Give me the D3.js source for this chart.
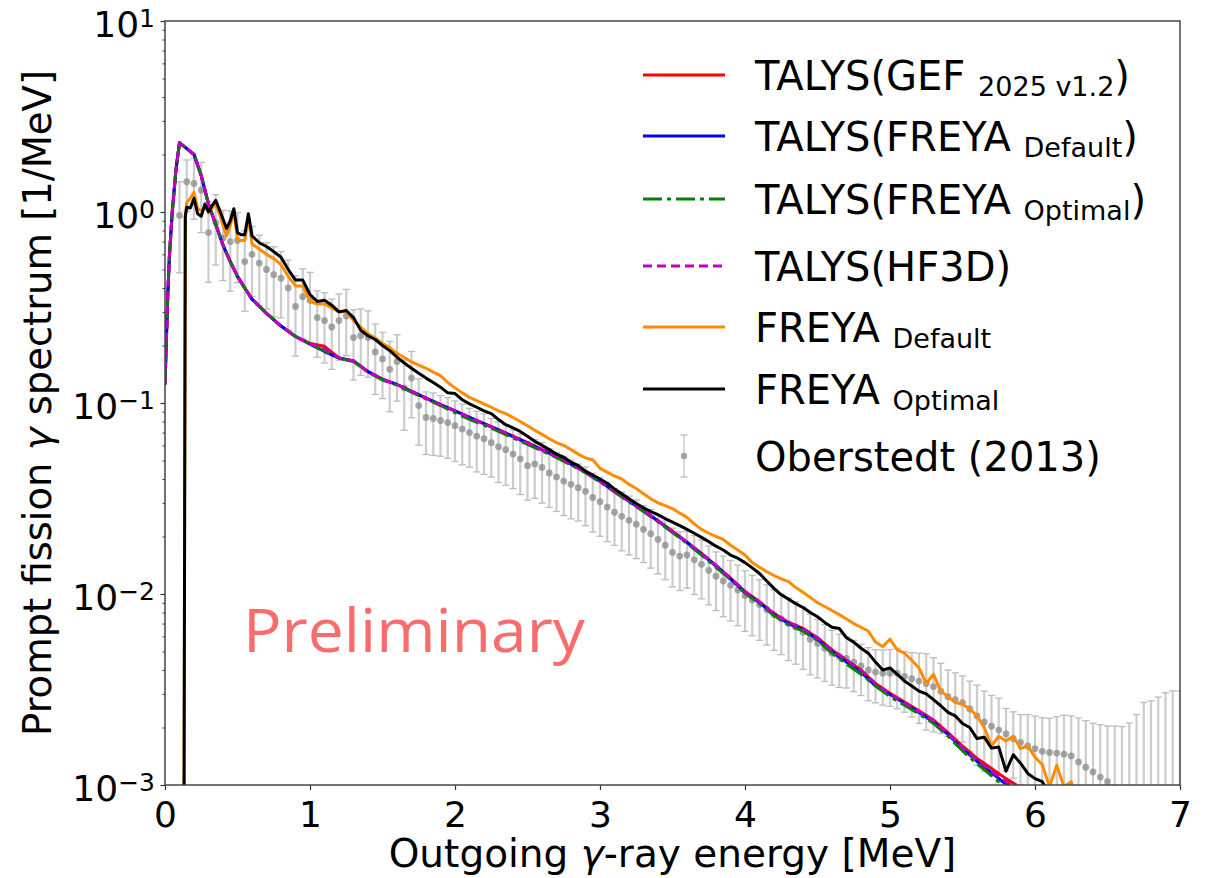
<!DOCTYPE html>
<html>
<head>
<meta charset="utf-8">
<script src="https://cdn.jsdelivr.net/npm/d3@7"></script>
<style>
body { margin: 0; background: #fff; }
text { font-family: "DejaVu Sans", sans-serif; }
</style>
</head>
<body>
<script>
// ---- TALYS curves (energy in MeV, spectrum in 1/MeV) ----
var talysE = [0, 0.01, 0.02, 0.03, 0.05, 0.075, 0.10, 0.20, 0.25, 0.30, 0.35, 0.40, 0.45, 0.50, 0.55, 0.60,
  0.7, 0.8, 0.9, 1.0, 1.1, 1.2, 1.3, 1.4, 1.5, 1.6, 1.7, 1.8, 1.9, 2.0,
  2.1, 2.2, 2.3, 2.4, 2.5, 2.6, 2.7, 2.8, 2.9, 3.0, 3.1, 3.2, 3.3, 3.4, 3.5, 3.6, 3.7, 3.8, 3.9, 4.0,
  4.1, 4.2, 4.3, 4.4, 4.5, 4.6, 4.7, 4.8, 4.9, 5.0, 5.1, 5.2, 5.3, 5.4, 5.5, 5.6, 5.7, 5.8, 5.9, 6.0];
var talysGef = [0.125, 0.22, 0.38, 0.58, 1.0, 1.65, 2.30, 2.00, 1.55, 1.10, 0.86, 0.67, 0.55, 0.46, 0.40, 0.35,
  0.295, 0.253, 0.223, 0.205, 0.198, 0.172, 0.166, 0.146, 0.133, 0.125, 0.115, 0.106, 0.098, 0.091,
  0.084, 0.078, 0.0725, 0.067, 0.062, 0.057, 0.0525, 0.048, 0.0435, 0.039, 0.0345, 0.0307, 0.0273, 0.0242, 0.0213, 0.0187, 0.0163, 0.0141, 0.0121, 0.0103,
  0.0091, 0.0079, 0.0071, 0.0066, 0.0059, 0.0051, 0.0045, 0.0040, 0.0034, 0.00302, 0.00272, 0.00245, 0.00219, 0.00188, 0.00160, 0.00138, 0.00122, 0.00108, 0.00097, 0.00086];
var talysFreyaDef = [0.125, 0.22, 0.38, 0.58, 1.0, 1.65, 2.31, 2.00, 1.55, 1.10, 0.86, 0.67, 0.55, 0.46, 0.40, 0.35,
  0.295, 0.253, 0.223, 0.203, 0.186, 0.172, 0.166, 0.146, 0.133, 0.125, 0.115, 0.106, 0.098, 0.091,
  0.084, 0.078, 0.0722, 0.0667, 0.0617, 0.0568, 0.0523, 0.0478, 0.0434, 0.0389, 0.0344, 0.0306, 0.0272, 0.0241, 0.0212, 0.0186, 0.0162, 0.0140, 0.0120, 0.0102,
  0.0090, 0.0078, 0.0070, 0.0065, 0.0058, 0.0050, 0.0044, 0.0039, 0.0033, 0.00298, 0.00268, 0.00240, 0.00214, 0.00184, 0.00155, 0.00133, 0.00116, 0.00101, 0.00090, 0.00080];
var talysFreyaOpt = [0.125, 0.22, 0.38, 0.58, 1.0, 1.65, 2.31, 2.00, 1.55, 1.10, 0.86, 0.67, 0.55, 0.46, 0.40, 0.35,
  0.295, 0.253, 0.223, 0.203, 0.188, 0.171, 0.165, 0.145, 0.132, 0.124, 0.114, 0.105, 0.097, 0.089,
  0.082, 0.0765, 0.0710, 0.0656, 0.0608, 0.0560, 0.0518, 0.0474, 0.0431, 0.0386, 0.0342, 0.0304, 0.0270, 0.0239, 0.0210, 0.0184, 0.0160, 0.0138, 0.0119, 0.0101,
  0.0089, 0.0077, 0.0069, 0.0064, 0.0057, 0.0049, 0.0043, 0.0038, 0.0033, 0.00290, 0.00262, 0.00235, 0.00210, 0.00180, 0.00151, 0.00129, 0.00112, 0.00097, 0.00086, 0.00077];
var talysHf3d = [0.125, 0.22, 0.38, 0.58, 1.0, 1.65, 2.30, 2.00, 1.55, 1.10, 0.86, 0.67, 0.55, 0.46, 0.40, 0.35,
  0.295, 0.253, 0.223, 0.204, 0.193, 0.172, 0.166, 0.146, 0.133, 0.125, 0.115, 0.106, 0.098, 0.091,
  0.084, 0.078, 0.0724, 0.0669, 0.0619, 0.0569, 0.0524, 0.0479, 0.0435, 0.0390, 0.0345, 0.0307, 0.0273, 0.0242, 0.0213, 0.0187, 0.0163, 0.0141, 0.0121, 0.0103,
  0.0091, 0.0079, 0.0071, 0.0066, 0.0059, 0.0051, 0.0045, 0.0040, 0.0034, 0.00300, 0.00270, 0.00243, 0.00217, 0.00186, 0.00157, 0.00135, 0.00118, 0.00104, 0.00093, 0.00083];

// ---- FREYA curves ----
var freyaE = [0.13, 0.14, 0.15, 0.175, 0.20, 0.225, 0.25, 0.275, 0.30, 0.325, 0.35, 0.375, 0.40, 0.425, 0.45, 0.475,
  0.50, 0.525, 0.55, 0.575, 0.60, 0.625, 0.65, 0.70, 0.75, 0.80, 0.85, 0.90, 0.95, 1.00,
  1.05, 1.10, 1.15, 1.20, 1.25, 1.30, 1.35, 1.40, 1.45, 1.50, 1.55, 1.60, 1.65, 1.70, 1.75, 1.80, 1.85, 1.90, 1.95,
  2.00, 2.05, 2.10, 2.15, 2.20, 2.25, 2.30, 2.35, 2.40, 2.45, 2.50, 2.55, 2.60, 2.65, 2.70, 2.75, 2.80, 2.85, 2.90, 2.95,
  3.00, 3.05, 3.10, 3.15, 3.20, 3.25, 3.30, 3.35, 3.40, 3.45, 3.50, 3.55, 3.60, 3.65, 3.70, 3.75, 3.80, 3.85, 3.90, 3.95,
  4.00, 4.05, 4.10, 4.15, 4.20, 4.25, 4.30, 4.35, 4.40, 4.45, 4.50, 4.55, 4.60, 4.65, 4.70, 4.75, 4.80, 4.85, 4.90, 4.95,
  5.00, 5.05, 5.10, 5.15, 5.20, 5.25, 5.30, 5.35, 5.40, 5.45, 5.50, 5.55, 5.60, 5.65, 5.70, 5.75, 5.80, 5.85, 5.90, 5.95,
  6.00, 6.05, 6.10, 6.15, 6.20, 6.25, 6.30];
var freyaDefault = [0.0003, 0.95, 1.12, 1.18, 1.27, 1.04, 1.02, 1.05, 1.02, 1.05, 1.10, 0.98, 0.85, 0.75, 0.85, 1.00,
  0.72, 0.71, 0.71, 0.94, 0.68, 0.66, 0.64, 0.60, 0.57, 0.53, 0.46, 0.41, 0.41, 0.34,
  0.33, 0.33, 0.315, 0.30, 0.30, 0.27, 0.25, 0.23, 0.219, 0.205, 0.195, 0.182, 0.173, 0.164, 0.158, 0.152, 0.145, 0.139, 0.128,
  0.120, 0.113, 0.107, 0.103, 0.099, 0.095, 0.091, 0.088, 0.084, 0.080, 0.076, 0.072, 0.0685, 0.065, 0.062, 0.060, 0.057, 0.054, 0.0515, 0.0505,
  0.0455, 0.0435, 0.0415, 0.0400, 0.0375, 0.0357, 0.0335, 0.0315, 0.0300, 0.0290, 0.0280, 0.0265, 0.0252, 0.0233, 0.0218, 0.0208, 0.0200, 0.0193, 0.0180, 0.0170,
  0.0160, 0.0146, 0.0138, 0.0131, 0.0125, 0.0120, 0.0116, 0.0108, 0.0102, 0.0096, 0.0090, 0.0086, 0.0082, 0.0078, 0.0074, 0.0070, 0.0067, 0.0064, 0.0056, 0.0053,
  0.0058, 0.0051, 0.0049, 0.0045, 0.0041, 0.0034, 0.0038, 0.0031, 0.0029, 0.0027, 0.00265, 0.0025, 0.0023, 0.0020, 0.0016, 0.0018, 0.0017, 0.0018, 0.00155, 0.0016,
  0.0014, 0.00128, 0.00098, 0.00127, 0.00098, 0.00104, 0.0008];
var freyaOptimal = [0.0003, 0.95, 1.06, 1.05, 1.18, 0.98, 0.95, 1.10, 1.00, 1.08, 1.15, 1.03, 0.92, 0.82, 0.90, 1.04,
  0.78, 0.76, 0.76, 0.98, 0.75, 0.72, 0.69, 0.66, 0.62, 0.58, 0.50, 0.44, 0.44, 0.37,
  0.34, 0.345, 0.325, 0.30, 0.305, 0.28, 0.24, 0.225, 0.215, 0.20, 0.188, 0.174, 0.162, 0.152, 0.143, 0.135, 0.128, 0.121, 0.113,
  0.112, 0.104, 0.099, 0.095, 0.091, 0.088, 0.082, 0.077, 0.074, 0.071, 0.067, 0.063, 0.060, 0.057, 0.054, 0.052, 0.049, 0.047, 0.044, 0.042,
  0.040, 0.038, 0.0355, 0.0335, 0.0315, 0.0298, 0.0283, 0.0270, 0.0260, 0.0248, 0.0238, 0.0228, 0.0218, 0.0208, 0.0198, 0.0188, 0.0178, 0.0170, 0.0160, 0.0154,
  0.0146, 0.0137, 0.0128, 0.0117, 0.0107, 0.0099, 0.0094, 0.0089, 0.0085, 0.0080, 0.0076, 0.0071, 0.0067, 0.0066, 0.0059, 0.0056, 0.0052, 0.0049, 0.0044, 0.0040,
  0.0041, 0.0038, 0.0035, 0.0033, 0.0031, 0.0030, 0.0028, 0.0026, 0.0024, 0.0023, 0.0021, 0.0020, 0.00175, 0.00178, 0.00156, 0.00158, 0.00118, 0.00144, 0.00130, 0.00115,
  0.00108, 0.00104, 0.00090, 0.00085, 0.0008, 0.00075, 0.0007];

// ---- Oberstedt (2013) data: energy, value, relative error [%] ----
var obsE = [0.10, 0.15, 0.20, 0.25, 0.30, 0.35, 0.40, 0.45, 0.50, 0.55, 0.60, 0.65, 0.70, 0.75, 0.80, 0.85, 0.90, 0.95,
  1.00, 1.05, 1.10, 1.15, 1.20, 1.25, 1.30, 1.35, 1.40, 1.45, 1.50, 1.55, 1.60, 1.65, 1.70, 1.75, 1.80, 1.85, 1.90, 1.95,
  2.00, 2.05, 2.10, 2.15, 2.20, 2.25, 2.30, 2.35, 2.40, 2.45, 2.50, 2.55, 2.60, 2.65, 2.70, 2.75, 2.80, 2.85, 2.90, 2.95,
  3.00, 3.05, 3.10, 3.15, 3.20, 3.25, 3.30, 3.35, 3.40, 3.45, 3.50, 3.55, 3.60, 3.65, 3.70, 3.75, 3.80, 3.85, 3.90, 3.95,
  4.00, 4.05, 4.10, 4.15, 4.20, 4.25, 4.30, 4.35, 4.40, 4.45, 4.50, 4.55, 4.60, 4.65, 4.70, 4.75, 4.80, 4.85, 4.90, 4.95,
  5.00, 5.05, 5.10, 5.15, 5.20, 5.25, 5.30, 5.35, 5.40, 5.45, 5.50, 5.55, 5.60, 5.65, 5.70, 5.75, 5.80, 5.85, 5.90, 5.95,
  6.00, 6.05, 6.10, 6.15, 6.20, 6.25, 6.30, 6.35, 6.40, 6.45, 6.50, 6.55, 6.60, 6.65, 6.70, 6.75, 6.80, 6.85, 6.90, 6.95, 7.00];
var obsY = [0.96, 1.44, 1.41, 1.30, 0.78, 0.88, 0.73, 0.70, 0.71, 0.55, 0.60, 0.54, 0.50, 0.47, 0.45, 0.40, 0.32, 0.36,
  0.345, 0.28, 0.27, 0.25, 0.27, 0.285, 0.22, 0.225, 0.22, 0.185, 0.17, 0.15, 0.165, 0.12, 0.135, 0.097, 0.084, 0.083, 0.081, 0.079,
  0.076, 0.073, 0.070, 0.067, 0.065, 0.062, 0.059, 0.057, 0.054, 0.051, 0.047, 0.048, 0.046, 0.043, 0.041, 0.039, 0.0375, 0.036, 0.0345, 0.032,
  0.0304, 0.0285, 0.0268, 0.0255, 0.0243, 0.0232, 0.0218, 0.0207, 0.0193, 0.0180, 0.0165, 0.0158, 0.0160, 0.0151, 0.0143, 0.0133, 0.0124, 0.0117, 0.0111, 0.0105,
  0.0098, 0.0093, 0.0088, 0.0083, 0.0078, 0.0074, 0.0070, 0.0067, 0.0063, 0.0058, 0.0055, 0.0052, 0.0049, 0.0047, 0.0046, 0.0044, 0.0042, 0.0040, 0.0039, 0.00385,
  0.00385, 0.00385, 0.0037, 0.0036, 0.0035, 0.0034, 0.00327, 0.0031, 0.0029, 0.0028, 0.0027, 0.0025, 0.0023, 0.00214, 0.00203, 0.00194, 0.00185, 0.00175, 0.00167, 0.0016,
  0.00155, 0.0015, 0.00148, 0.00147, 0.00145, 0.00142, 0.00132, 0.00124, 0.00117, 0.0011, 0.00104, 0.00097, 0.00092, 0.00088, 0.00085, 0.00082, 0.0008, 0.00078, 0.00076, 0.00075, 0.00074];
var obsErrPct = [50, 30, 35, 40, 45, 40, 40, 45, 40, 45, 40, 40, 38, 40, 38, 40, 45, 40,
  40, 38, 40, 40, 38, 38, 40, 38, 38, 40, 38, 40, 38, 40, 38, 38, 36, 36, 35, 35,
  35, 35, 34, 35, 35, 34, 35, 35, 34, 35, 34, 34, 35, 34, 34, 34, 34, 33, 34, 34,
  34, 34, 33, 34, 34, 34, 33, 34, 34, 34, 34, 34, 33, 34, 34, 34, 34, 35, 35, 35,
  35, 35, 35, 35, 35, 35, 36, 36, 36, 35, 34, 33, 32, 31, 30, 30, 30, 31, 31, 32,
  33, 35, 35, 37, 40, 43, 42, 40, 38, 38, 38, 40, 45, 45, 45, 47, 36, 38, 40, 46,
  48, 50, 51, 55, 60, 62, 70, 75, 80, 88, 96, 110, 120, 140, 175, 230, 245, 270, 300, 315, 320];

var xTicks = [0, 1, 2, 3, 4, 5, 6, 7];
var yTicks = [1e-3, 1e-2, 1e-1, 1, 10];
var yTickExp = ["\u22123", "\u22122", "\u22121", "0", "1"];

var legendMain = ["TALYS(GEF ", "TALYS(FREYA ", "TALYS(FREYA ", "TALYS(HF3D)", "FREYA ", "FREYA ", "Oberstedt (2013)"];
var legendSub = ["2025 v1.2", "Default", "Optimal", "", "Default", "Optimal", ""];
var legendEnd = [")", ")", ")", "", "", "", ""];

var width = 1205, height = 878;
var plotL = 165, plotR = 1180, plotT = 21, plotB = 785;

var x = d3.scaleLinear().domain([0, 7]).range([plotL, plotR]);
var y = d3.scaleLog().domain([1e-3, 10]).range([plotB, plotT]);

var svg = d3.select("body").append("svg")
  .attr("width", width)
  .attr("height", height)
  .style("background-color", "white");

svg.append("defs").append("clipPath").attr("id", "clip")
  .append("rect")
    .attr("x", plotL).attr("y", plotT)
    .attr("width", plotR - plotL).attr("height", plotB - plotT);

var plot = svg.append("g").attr("clip-path", "url(#clip)");

// error bars of the measurement
var barColor = "#cccccc";
var obs = obsE.map(function(e, i) {
  var v = obsY[i], err = v * obsErrPct[i] / 100;
  return {e: e, v: v, lo: v - err, hi: v + err};
});
var bars = plot.append("g");
obs.forEach(function(d) {
  var px = x(d.e);
  var yLo = d.lo > 0 ? y(d.lo) : plotB + 20;
  bars.append("line").attr("x1", px).attr("x2", px).attr("y1", y(d.hi)).attr("y2", yLo)
    .attr("stroke", barColor).attr("stroke-width", 2.2);
  bars.append("line").attr("x1", px - 3.6).attr("x2", px + 3.6).attr("y1", y(d.hi)).attr("y2", y(d.hi))
    .attr("stroke", "#bdbdbd").attr("stroke-width", 1.3);
  if (d.lo > 0) {
    bars.append("line").attr("x1", px - 3.6).attr("x2", px + 3.6).attr("y1", yLo).attr("y2", yLo)
      .attr("stroke", "#bdbdbd").attr("stroke-width", 1.3);
  }
});
plot.append("g").selectAll("circle")
  .data(obs)
  .enter()
  .append("circle")
    .attr("cx", function(d) { return x(d.e); })
    .attr("cy", function(d) { return y(d.v); })
    .attr("r", 3.4)
    .attr("fill", "#8a8a8a")
    .attr("fill-opacity", 0.75);

var line = d3.line()
  .x(function(d) { return x(d[0]); })
  .y(function(d) { return y(d[1]); });

function zip(xs, ys) { return xs.map(function(v, i) { return [v, ys[i]]; }); }

var series = [
  {e: talysE, v: talysGef, color: "#ff0000", dash: null},
  {e: talysE, v: talysFreyaDef, color: "#0000ff", dash: null},
  {e: talysE, v: talysFreyaOpt, color: "#008000", dash: "19,5,4,5"},
  {e: talysE, v: talysHf3d, color: "#bf00bf", dash: "9,5"},
  {e: freyaE, v: freyaDefault, color: "#ff8c00", dash: null},
  {e: freyaE, v: freyaOptimal, color: "#000000", dash: null}
];

series.forEach(function(s) {
  plot.append("path")
    .datum(zip(s.e, s.v))
    .attr("d", line)
    .attr("fill", "none")
    .attr("stroke", s.color)
    .attr("stroke-width", 3)
    .attr("stroke-linejoin", "round")
    .attr("stroke-dasharray", s.dash);
});

// Preliminary stamp
svg.append("text")
  .attr("x", 243)
  .attr("y", 652)
  .style("font-family", "'Open Sans', Lato, sans-serif")
  .attr("font-size", "60px")
  .attr("textLength", 342)
  .attr("lengthAdjust", "spacingAndGlyphs")
  .attr("fill", "#f76d6d")
  .text("Preliminary");

// axes
var bottomAxis = d3.axisBottom(x).tickValues(xTicks).tickFormat(d3.format("d")).tickSize(5).tickPadding(11);
var gx = svg.append("g")
  .attr("class", "bottom axis")
  .attr("transform", "translate(0, " + plotB + ")")
  .call(bottomAxis);
gx.select(".domain").remove();
gx.selectAll("line").attr("stroke", "#333").attr("stroke-width", 1.2);
gx.selectAll("text").attr("font-size", "36px").attr("fill", "#000");

var minorVals = [];
[1e-3, 1e-2, 1e-1, 1].forEach(function(p) {
  for (var k = 2; k <= 9; k++) minorVals.push(p * k);
});
var gyMinor = svg.append("g")
  .attr("transform", "translate(" + plotL + ", 0)")
  .call(d3.axisLeft(y).tickValues(minorVals).tickFormat("").tickSize(2.5));
gyMinor.select(".domain").remove();
gyMinor.selectAll("line").attr("stroke", "#333").attr("stroke-width", 1);

var gy = svg.append("g")
  .attr("class", "left axis")
  .attr("transform", "translate(" + plotL + ", 0)")
  .call(d3.axisLeft(y).tickValues(yTicks).tickFormat("").tickSize(4.5));
gy.select(".domain").remove();
gy.selectAll("line").attr("stroke", "#333").attr("stroke-width", 1.2);
gy.selectAll(".tick").each(function(d, i) {
  var t = d3.select(this).append("text")
    .attr("x", -10)
    .attr("y", 15)
    .attr("text-anchor", "end")
    .attr("fill", "#000")
    .attr("font-size", "36px");
  t.append("tspan").text("10");
  t.append("tspan").attr("dy", -10).attr("font-size", "25px").text(yTickExp[i]);
});

svg.append("rect")
  .attr("x", plotL).attr("y", plotT)
  .attr("width", plotR - plotL).attr("height", plotB - plotT)
  .attr("fill", "none")
  .attr("stroke", "#444")
  .attr("stroke-width", 1.5);

// axis labels
svg.append("text")
  .attr("x", (plotL + plotR) / 2)
  .attr("y", 867)
  .attr("font-size", "39px")
  .attr("text-anchor", "middle")
  .html("Outgoing <tspan font-style='italic'>\u03b3</tspan>-ray energy [MeV]");

svg.append("text")
  .attr("transform", "translate(51, " + (plotT + plotB) / 2 + ") rotate(-90)")
  .attr("font-size", "38.5px")
  .attr("text-anchor", "middle")
  .html("Prompt fission <tspan font-style='italic'>\u03b3</tspan> spectrum [1/MeV]");

// legend
var legY = [75, 136, 199, 266, 327, 389, 456];
var leg = svg.append("g");
series.forEach(function(s, i) {
  leg.append("line")
    .attr("x1", 643).attr("x2", 725)
    .attr("y1", legY[i]).attr("y2", legY[i])
    .attr("stroke", s.color)
    .attr("stroke-width", 3)
    .attr("stroke-dasharray", s.dash);
});
var ly = legY[6];
leg.append("line").attr("x1", 684).attr("x2", 684).attr("y1", ly - 21).attr("y2", ly + 21)
  .attr("stroke", barColor).attr("stroke-width", 1.5);
[ly - 21, ly + 21].forEach(function(cy) {
  leg.append("line").attr("x1", 680.5).attr("x2", 687.5).attr("y1", cy).attr("y2", cy)
    .attr("stroke", "#bdbdbd").attr("stroke-width", 1.3);
});
leg.append("circle").attr("cx", 684).attr("cy", ly).attr("r", 3.2)
  .attr("fill", "#8a8a8a").attr("fill-opacity", 0.75);

legendMain.forEach(function(m, i) {
  var t = leg.append("text")
    .attr("x", 755)
    .attr("y", legY[i] + 14.5)
    .attr("font-size", "40px")
    .attr("fill", "#000");
  t.append("tspan").attr("xml:space", "preserve").text(m);
  if (legendSub[i]) {
    t.append("tspan").attr("dy", 6).attr("font-size", "27px").text(legendSub[i]);
    if (legendEnd[i]) t.append("tspan").attr("dy", -6).text(legendEnd[i]);
  }
});
</script>
</body>
</html>
